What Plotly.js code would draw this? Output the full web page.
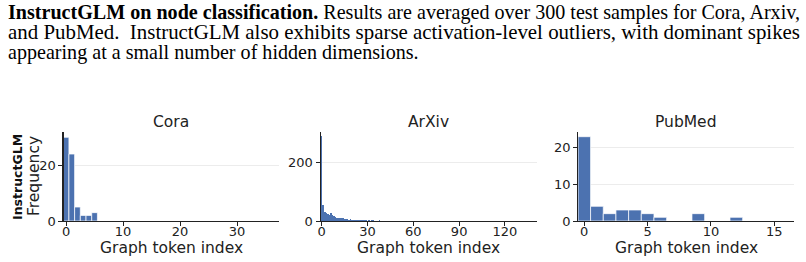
<!DOCTYPE html>
<html>
<head>
<meta charset="utf-8">
<script src="https://cdn.plot.ly/plotly-3.0.1.min.js"></script>
<style>
  html, body { margin: 0; padding: 0; background: #fff; }
  #wrap { position: relative; width: 806px; height: 262px; overflow: hidden; }
  #chart { position: absolute; left: 0; top: 0; width: 806px; height: 262px; }
  .cap { position: absolute; left: 8px; font-family: "Liberation Serif", "DejaVu Serif", serif;
         font-size: 21px; line-height: 20px; color: #000; white-space: nowrap;
         transform-origin: left top; }
</style>
</head>
<body>
<div id="wrap">
  <div id="chart"></div>
  <div class="cap" id="l1" style="top:2px;"><b>InstructGLM on node classification.</b> Results are averaged over 300 test samples for Cora, Arxiv,</div>
  <div class="cap" id="l2" style="top:22px;">and PubMed.&nbsp; InstructGLM also exhibits sparse activation-level outliers, with dominant spikes</div>
  <div class="cap" id="l3" style="top:42px;">appearing at a small number of hidden dimensions.</div>
</div>
<script>
// ---- data ----
const panelTitles = ["Cora", "ArXiv", "PubMed"];
const coraValues = [30, 24, 5, 2, 2, 3, 0, 0, 0, 0, 0, 0, 0, 0, 0, 0, 0, 0, 0, 0,
                    0, 0, 0, 0, 0, 0, 0, 0, 0, 0, 0, 0, 0, 0, 0, 0, 0, 0];
const arxivValues = [290, 55, 32, 28, 25, 22, 26, 22, 18, 14, 10, 9, 10, 12, 10, 8, 7, 6, 5, 6,
                     4, 4, 3, 4, 3, 2, 3, 2, 3, 2, 1, 2, 1, 3, 4, 1, 0, 1, 2, 0,
                     0, 0, 0, 0, 0, 0, 0, 0, 0, 0, 0, 0, 0, 0, 0, 0, 0, 0, 1, 0];
const pubmedValues = [23, 4, 2, 3, 3, 2, 1, 0, 0, 2, 0, 0, 1, 0, 0, 0, 0];
const coraTicks = [0, 10, 20, 30];
const arxivTicks = [0, 30, 60, 90, 120];
const pubmedTicks = [0, 5, 10, 15];
const coraYTicks = [0, 20];
const arxivYTicks = [0, 200];
const pubmedYTicks = [0, 10, 20];
const xLabel = "Graph token index";
const yLabel = "Frequency";
const rowLabel = "InstructGLM";

const idx = arr => arr.map((_, i) => i);
const barColor = "#4c72b0";

function barTrace(vals, n, edgeW) {
  return {
    type: "bar", x: idx(vals), y: vals, xaxis: "x" + (n === 1 ? "" : n), yaxis: "y" + (n === 1 ? "" : n),
    width: 1, marker: { color: barColor, line: { color: "rgba(255,255,255,0.7)", width: edgeW } },
    hoverinfo: "skip", showlegend: false
  };
}

const data = [barTrace(coraValues, 1, 1), barTrace(arxivValues, 2, 0), barTrace(pubmedValues, 3, 1)];

const W = 806, H = 262;
const px = v => v / W;
const py = v => 1 - v / H;
const doms = [[63.5, 279.3], [320.7, 536.7], [578.3, 794]];
const yDom = [py(221), py(132.3)];

const tickFont = { family: "DejaVu Sans", size: 13, color: "#222" };
function xa(dom, range, ticks, anchor) {
  return {
    domain: [px(dom[0]), px(dom[1])], range: range, anchor: anchor,
    tickmode: "array", tickvals: ticks, ticktext: ticks.map(String),
    ticks: "outside", ticklen: 4, tickwidth: 1, tickcolor: "#222",
    ticklabelstandoff: -6,
    showline: true, linecolor: "#222", linewidth: 1.2, showgrid: false, zeroline: false,
    tickfont: tickFont, fixedrange: true
  };
}
function ya(range, ticks, anchor) {
  return {
    domain: yDom, range: range, anchor: anchor,
    tickmode: "array", tickvals: ticks, ticktext: ticks.map(String),
    ticks: "outside", ticklen: 4, tickwidth: 1, tickcolor: "#222",
    showline: true, linecolor: "#222", linewidth: 1.2,
    showgrid: true, gridcolor: "#ececec", gridwidth: 1, zeroline: false,
    tickfont: tickFont, fixedrange: true
  };
}

const annotations = [];
const titleFont = { family: "DejaVu Sans", size: 15.5, color: "#222" };
doms.forEach((d, i) => {
  const cx = px((d[0] + d[1]) / 2);
  annotations.push({ text: panelTitles[i], xref: "paper", yref: "paper", x: cx, y: py(121.7),
    xanchor: "center", yanchor: "middle", showarrow: false, font: titleFont });
  annotations.push({ text: xLabel, xref: "paper", yref: "paper", x: cx, y: py(247.5),
    xanchor: "center", yanchor: "middle", showarrow: false, font: { family: "DejaVu Sans", size: 15.5, color: "#222" } });
});
annotations.push({ text: yLabel, xref: "paper", yref: "paper", x: px(34), y: py(176),
  xanchor: "center", yanchor: "middle", showarrow: false, textangle: -90,
  font: { family: "DejaVu Sans", size: 15.5, color: "#222" } });
annotations.push({ text: "<b>" + rowLabel + "</b>", xref: "paper", yref: "paper", x: px(17), y: py(177),
  xanchor: "center", yanchor: "middle", showarrow: false, textangle: -90,
  font: { family: "DejaVu Sans", size: 12.5, color: "#111" } });

const layout = {
  width: W, height: H, margin: { l: 0, r: 0, t: 0, b: 0 },
  paper_bgcolor: "#fff", plot_bgcolor: "#fff", bargap: 0,
  xaxis: xa(doms[0], [-0.45, 37.4], coraTicks, "y"),
  yaxis: ya([0, 31.8], coraYTicks, "x"),
  xaxis2: xa(doms[1], [-0.65, 140.8], arxivTicks, "y2"),
  yaxis2: ya([0, 304], arxivYTicks, "x2"),
  xaxis3: xa(doms[2], [-0.47, 16.55], pubmedTicks, "y3"),
  yaxis3: ya([0, 24.2], pubmedYTicks, "x3"),
  annotations: annotations
};

Plotly.newPlot("chart", data, layout, { staticPlot: true, displayModeBar: false });

// caption: fit lines 1 and 2 into the full width by horizontal scaling
(function () {
  const target = 792;
  let s1 = 1;
  ["l1", "l2"].forEach(id => {
    const el = document.getElementById(id);
    const natural = el.getBoundingClientRect().width;
    const s = target / natural;
    if (id === "l1") s1 = s;
    el.style.transform = "scaleX(" + s + ")";
  });
  document.getElementById("l3").style.transform = "scaleX(" + s1 + ")";
})();
</script>
</body>
</html>
